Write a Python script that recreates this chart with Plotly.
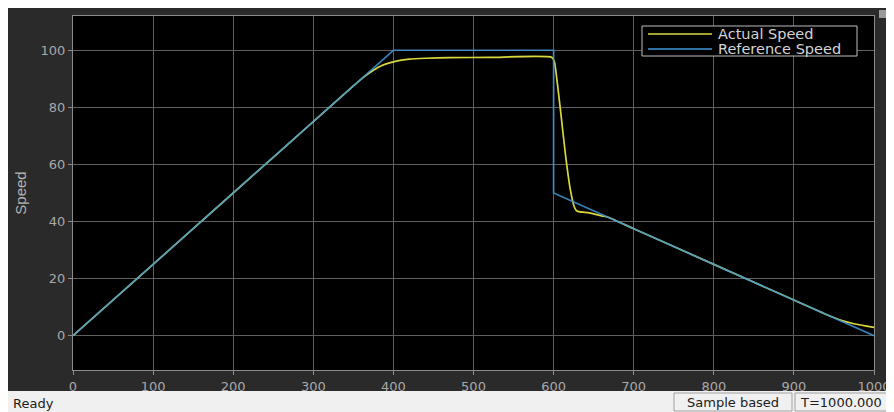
import plotly.graph_objects as go

# ---- data ----
ref_time = [0, 400, 600, 600, 1000]
ref_speed = [0, 100, 100, 50, 0]

act_time = [0, 100, 200, 300, 350, 365, 375, 385, 395, 405, 420, 440, 470, 520, 598,
            601, 604, 609, 615, 621, 626, 629, 633, 640, 650, 660, 668, 700, 800, 900,
            945, 960, 975, 1000]
act_speed = [0, 25, 50, 75, 87.5, 91.0, 93.0, 94.6, 95.6, 96.3, 96.9, 97.2, 97.4, 97.5, 97.5,
             96.0, 90.0, 78.0, 63.0, 51.0, 45.0, 43.7, 43.4, 43.2, 42.7, 42.0, 41.5, 37.5, 25.0, 12.5,
             6.9, 5.3, 4.2, 2.9]

x_ticks = [0, 100, 200, 300, 400, 500, 600, 700, 800, 900, 1000]
y_ticks = [0, 20, 40, 60, 80, 100]
legend_names = ["Actual Speed", "Reference Speed"]
colors = ["#d8d83e", "#3f97d8"]

# the page body adds an 8px offset; figure is sized to fill the rest of the window
OFF = 8
W, H = 894 - OFF, 412 - OFF
L, R, T, B = 73 - OFF, 874 - OFF, 16 - OFF, 370 - OFF  # plot area in figure pixels


def px(x):  # page pixel -> paper x
    return (x - OFF - L) / (R - L)


def py(y):  # page pixel -> paper y
    return (B - (y - OFF)) / (B - T)


fig = go.Figure()
fig.add_trace(go.Scatter(x=act_time, y=act_speed, mode="lines", name=legend_names[0],
                         line=dict(color=colors[0], width=1.7, shape="spline", smoothing=0.6),
                         showlegend=False))
fig.add_trace(go.Scatter(x=ref_time, y=ref_speed, mode="lines", name=legend_names[1],
                         line=dict(color=colors[1], width=1.7), opacity=0.85, showlegend=False))

wide = "DejaVu Sans, Verdana, sans-serif"
axis_common = dict(showgrid=True, gridcolor="#606060", gridwidth=1, zeroline=False,
                   showline=True, linecolor="#8c8c8c", linewidth=1, mirror=True,
                   ticks="outside", ticklen=4, tickcolor="#8c8c8c",
                   tickfont=dict(family=wide, size=13, color="#a8a8a8"))

fig.update_layout(
    width=W, height=H,
    margin=dict(l=L, r=W - R, t=T, b=H - B, pad=0),
    paper_bgcolor="#2a2a2a", plot_bgcolor="#000000",
    xaxis=dict(range=[0, 1000], tickvals=x_ticks, automargin=False, **axis_common),
    yaxis=dict(range=[-12, 112], tickvals=y_ticks, automargin=False,
               title=dict(text="Speed", font=dict(family="Liberation Sans, Arial, sans-serif",
                                                  size=15, color="#b4b4b4"), standoff=10),
               **axis_common),
    showlegend=False,
)

shapes = []
# manual legend box
shapes.append(dict(type="rect", xref="paper", yref="paper", x0=px(642), x1=px(857), y0=py(56), y1=py(26),
                   fillcolor="#000000", line=dict(color="#bdbdbd", width=1), layer="above"))
for i, yy in enumerate([34, 49]):
    shapes.append(dict(type="line", xref="paper", yref="paper", x0=px(648), x1=px(712), y0=py(yy), y1=py(yy),
                       line=dict(color=colors[i], width=1.7), layer="above"))
# status bar
shapes.append(dict(type="rect", xref="paper", yref="paper", x0=px(0), x1=px(900), y0=py(420), y1=py(391),
                   fillcolor="#f0f0f0", line=dict(width=0), layer="above"))
shapes.append(dict(type="rect", xref="paper", yref="paper", x0=px(674), x1=px(792), y0=py(411), y1=py(393),
                   fillcolor="#f0f0f0", line=dict(color="#a0a0a0", width=1), layer="above"))
shapes.append(dict(type="rect", xref="paper", yref="paper", x0=px(795), x1=px(893), y0=py(411), y1=py(393),
                   fillcolor="#f0f0f0", line=dict(color="#a0a0a0", width=1), layer="above"))
# small icon top right
shapes.append(dict(type="rect", xref="paper", yref="paper", x0=px(879), x1=px(892), y0=py(18), y1=py(10),
                   fillcolor="#9a9a9a", line=dict(width=0), layer="above"))
fig.update_layout(shapes=shapes)

leg_font = dict(family=wide, size=14.5, color="#d4d4d4")
for i, yy in enumerate([34, 49]):
    fig.add_annotation(xref="paper", yref="paper", x=px(716), y=py(yy), text=legend_names[i], showarrow=False,
                       xanchor="left", yanchor="middle", font=leg_font)

ann_font = dict(family=wide, size=13, color="#202020")
fig.add_annotation(xref="paper", yref="paper", x=px(11), y=py(403), text="Ready", showarrow=False,
                   xanchor="left", yanchor="middle", font=ann_font)
fig.add_annotation(xref="paper", yref="paper", x=px(733), y=py(402), text="Sample based", showarrow=False,
                   xanchor="center", yanchor="middle", font=ann_font)
fig.add_annotation(xref="paper", yref="paper", x=px(798), y=py(402), text="T=1000.000", showarrow=False,
                   xanchor="left", yanchor="middle", font=ann_font)

fig.write_html("out.html")
